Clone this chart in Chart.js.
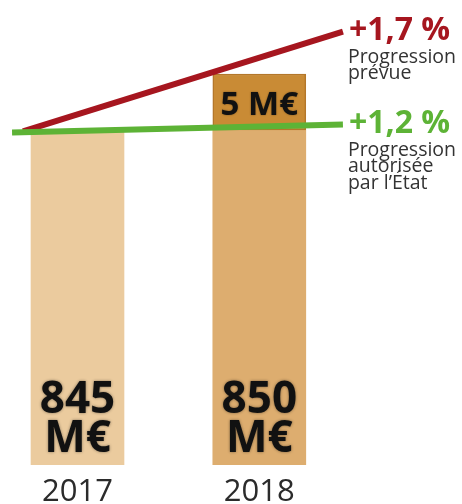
<!DOCTYPE html>
<html><head><meta charset="utf-8">
<script src="https://cdn.jsdelivr.net/npm/chart.js@4.4.1/dist/chart.umd.min.js"></script>
<style>html,body{margin:0;padding:0;background:#fff;overflow:hidden}#wrap{position:relative;width:462px;height:504px}canvas{display:block}</style>
</head><body><div id="wrap"><canvas id="c" width="462" height="504"></canvas></div>
<script>
// ---- data ----
const years = [2017, 2018];
const budget = [845, 850];                 // M€
const budgetLabels = [['845', 'M€'], ['850', 'M€']];
const increaseLabel = '5 M€';
const plannedX = [2016.70, 2018.46];       // red line ("Progression prévue")
const plannedY = [844.87, 853.79];
const allowedX = [2016.64, 2018.46];       // green line ("Progression autorisée par l'État")
const allowedY = [844.78, 845.49];
const plannedText = ['+1,7 %', 'Progression', 'prévue'];
const allowedText = ['+1,2 %', 'Progression', 'autorisée', 'par l\u2019\u00C9tat'];

const RED = '#A6161F', GREEN = '#5DB336';

const labelsPlugin = {
  id: 'labels',
  afterDraw(chart) {
    const ctx = chart.ctx;
    const area = chart.chartArea;
    ctx.save();
    const m0 = chart.getDatasetMeta(0);
    m0.data.forEach((el, i) => {
      ctx.save();
      ctx.font = 'bold 44px "Open Sans"';
      ctx.textAlign = 'center';
      ctx.textBaseline = 'alphabetic';
      ctx.fillStyle = '#111';
      ctx.shadowColor = 'rgba(0,0,0,0.45)';
      ctx.shadowBlur = 3;
      ctx.fillText(budgetLabels[i][0], el.x, area.bottom - 52.5);
      ctx.fillText(budgetLabels[i][1], el.x, area.bottom - 13.5);
      ctx.restore();
    });
    const m1 = chart.getDatasetMeta(1);
    const el = m1.data[0];
    ctx.save();
    ctx.font = 'bold 33px "Open Sans"';
    ctx.textAlign = 'center';
    ctx.fillStyle = '#111';
    ctx.shadowColor = 'rgba(0,0,0,0.4)';
    ctx.shadowBlur = 2;
    ctx.fillText(increaseLabel, el.x, (el.y + el.base) / 2 + 12.5);
    ctx.restore();
    function endLabels(metaIdx, texts, color) {
      const pts = chart.getDatasetMeta(metaIdx).data;
      const p = pts[pts.length - 1];
      const x = p.x + 6;
      let y = p.y + 8;
      ctx.textAlign = 'left';
      ctx.fillStyle = color;
      ctx.font = 'bold 32px "Open Sans"';
      ctx.fillText(texts[0], x, y);
      ctx.fillStyle = '#333';
      ctx.font = '19.5px "Open Sans"';
      y += 23;
      for (let i = 1; i < texts.length; i++) {
        ctx.fillText(texts[i], x - 1, y);
        y += 16.5;
      }
    }
    endLabels(3, plannedText, RED);
    endLabels(2, allowedText, GREEN);
    ctx.restore();
  }
};

new Chart(document.getElementById('c'), {
  type: 'bar',
  data: {
    datasets: [
      {
        label: 'Budget',
        data: years.map(y => ({ x: y, y: budget[0] })),
        backgroundColor: ['#EBCB9E', '#DDAD6F'],
        borderWidth: 0,
        barThickness: 93,
        grouped: false,
        order: 3
      },
      {
        label: 'Hausse',
        data: [{ x: years[1], y: [budget[0], budget[1]] }],
        backgroundColor: '#C98B35',
        borderColor: '#B4772A',
        borderWidth: 1.5,
        borderSkipped: false,
        barThickness: 93,
        grouped: false,
        order: 2
      },
      {
        type: 'line',
        label: 'Progression autorisée',
        data: allowedX.map((x, i) => ({ x, y: allowedY[i] })),
        borderColor: GREEN,
        borderWidth: 6,
        borderCapStyle: 'butt',
        pointRadius: 0,
        tension: 0,
        fill: false,
        order: 0
      },
      {
        type: 'line',
        label: 'Progression prévue',
        data: plannedX.map((x, i) => ({ x, y: plannedY[i] })),
        borderColor: RED,
        borderWidth: 6,
        borderCapStyle: 'butt',
        pointRadius: 0,
        tension: 0,
        fill: false,
        order: 1
      }
    ]
  },
  options: {
    responsive: false,
    animation: false,
    devicePixelRatio: 1,
    layout: { padding: 0 },
    plugins: { legend: { display: false }, tooltip: { enabled: false }, title: { display: false } },
    scales: {
      x: {
        type: 'linear',
        offset: false,
        min: 2016.5737,
        max: 2019.115,
        grid: { display: false, drawTicks: false, offset: false },
        border: { display: false },
        ticks: {
          stepSize: 1,
          includeBounds: false,
          autoSkip: false,
          maxRotation: 0,
          padding: 9,
          color: '#2b2b2b',
          font: { family: 'Open Sans', size: 31 },
          callback: v => years.includes(v) ? String(v) : ''
        },
        afterFit: s => { s.height = 39; }
      },
      y: { display: false, min: 815.09, max: 856.61 }
    }
  },
  plugins: [labelsPlugin]
});
</script>
</body></html>
